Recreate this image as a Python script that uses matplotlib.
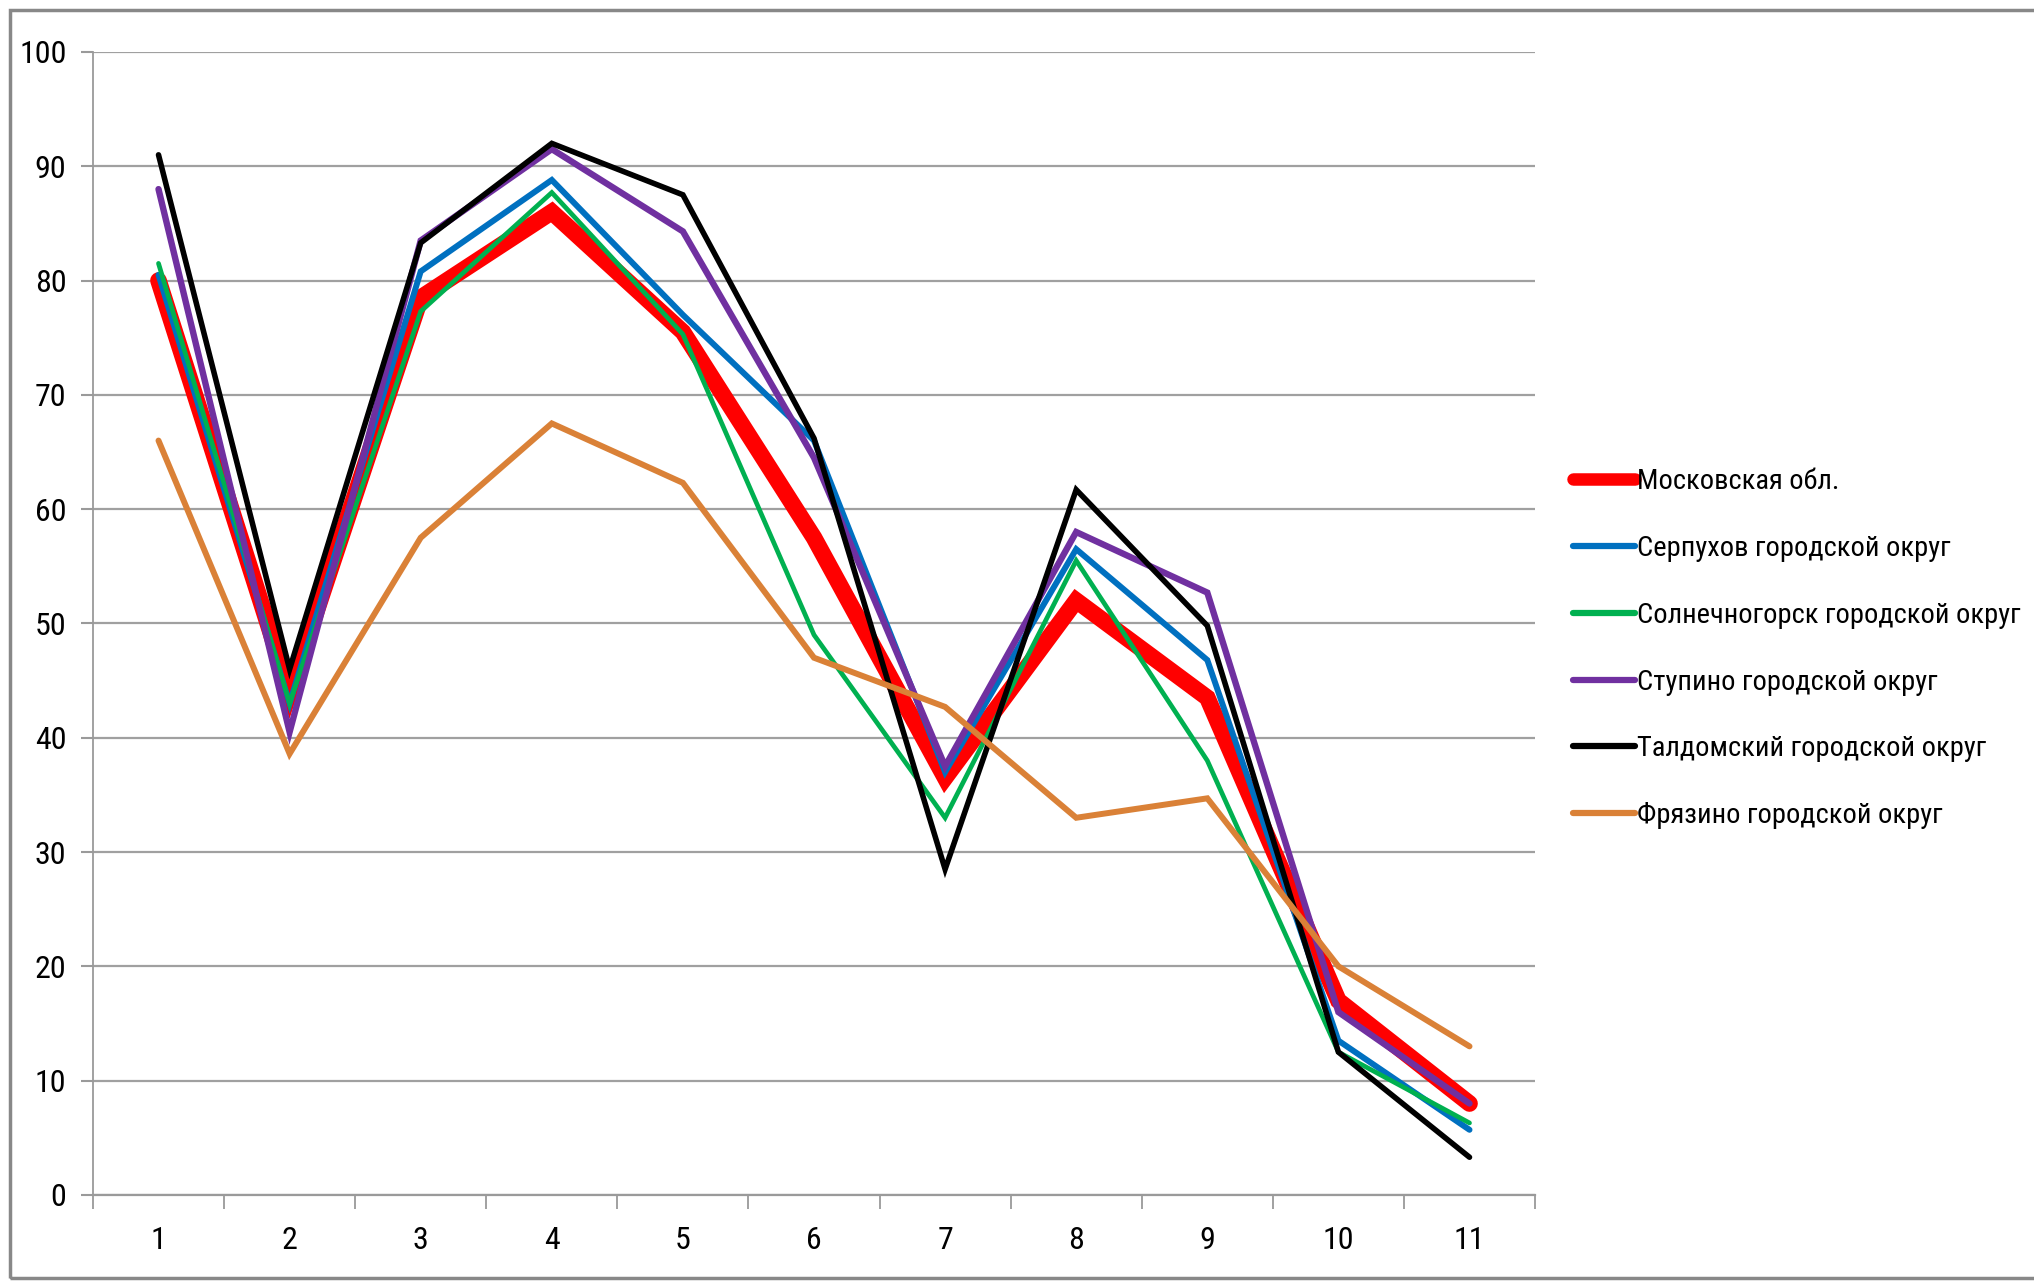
import matplotlib
matplotlib.use('Agg')
import matplotlib.pyplot as plt
from matplotlib.patches import Rectangle
from matplotlib import font_manager

# narrow font if one is there, otherwise Roboto
installed = {f.name for f in font_manager.fontManager.ttflist}
prefs = ['Liberation Sans Narrow', 'Roboto Condensed', 'Open Sans Condensed', 'Roboto', 'DejaVu Sans']
plt.rcParams['font.family'] = [p for p in prefs if p in installed] or ['DejaVu Sans']

# data
categories = [1, 2, 3, 4, 5, 6, 7, 8, 9, 10, 11]
names = ['Московская обл.', 'Серпухов городской округ', 'Солнечногорск городской округ',
         'Ступино городской округ', 'Талдомский городской округ', 'Фрязино городской округ']
moscow = [80.0, 44.0, 78.5, 86.0, 75.5, 57.5, 36.5, 52.0, 43.5, 17.0, 8.0]
serpukhov = [80.5, 43.0, 80.8, 88.8, 77.0, 66.0, 37.0, 56.5, 46.8, 13.5, 5.7]
solnechnogorsk = [81.5, 43.0, 77.3, 87.7, 75.3, 49.0, 33.0, 55.5, 38.0, 12.5, 6.3]
stupino = [88.0, 40.5, 83.5, 91.5, 84.3, 64.5, 37.5, 58.0, 52.7, 16.0, 8.0]
taldom = [91.0, 46.0, 83.3, 92.0, 87.5, 66.2, 28.5, 61.7, 49.8, 12.5, 3.3]
fryazino = [66.0, 38.6, 57.5, 67.5, 62.3, 47.0, 42.7, 33.0, 34.7, 20.0, 13.0]

series = [moscow, serpukhov, solnechnogorsk, stupino, taldom, fryazino]
colors = ['#FF0000', '#0070C0', '#00B050', '#7030A0', '#000000', '#DA8137']
widths = [12, 4.3, 3.4, 4.6, 4.0, 4.3]

fig = plt.figure(figsize=(20.34, 12.86), dpi=100)
ax = fig.add_axes([0.0457, 0.0708, 0.709, 0.8888])

for vals, name, c, w in zip(series, names, colors, widths):
    ax.plot(categories, vals, color=c, lw=w, label=name, solid_capstyle='round',
            solid_joinstyle='miter')

ax.set_xlim(0.5, 11.5)
ax.set_ylim(0, 100)
ax.set_yticks(range(0, 101, 10))
ax.set_xticks(categories)
ax.set_xticks([i + 0.5 for i in range(0, 12)], minor=True)
ax.tick_params(axis='x', which='major', length=0, pad=22, labelsize=23)
ax.tick_params(axis='x', which='minor', length=10, width=1.3, color='#9a9a9a')
ax.tick_params(axis='y', length=9, width=1.5, color='#9a9a9a', pad=10, labelsize=23)
ax.grid(axis='y', color='#a0a0a0', lw=1.6)
ax.set_axisbelow(True)
for s in ['top', 'right']:
    ax.spines[s].set_visible(False)
ax.spines['left'].set_color('#9a9a9a')
ax.spines['left'].set_linewidth(1.3)
ax.spines['bottom'].set_color('#9a9a9a')
ax.spines['bottom'].set_linewidth(1.6)

leg = ax.legend(loc='center left', bbox_to_anchor=(1.026, 0.478), frameon=False,
                fontsize=20.5, handlelength=2.2, handletextpad=0.05, labelspacing=1.4,
                borderpad=0, borderaxespad=0)
for line in leg.get_lines():
    line.set_linewidth(4.5 if line.get_linewidth() < 9 else 9)

# outer chart border
fig.patches.append(Rectangle((0.005, 0.006), 1.2, 0.986, transform=fig.transFigure,
                             fill=False, edgecolor='#888888', lw=2.5))

fig.savefig('out.png', dpi=100)
